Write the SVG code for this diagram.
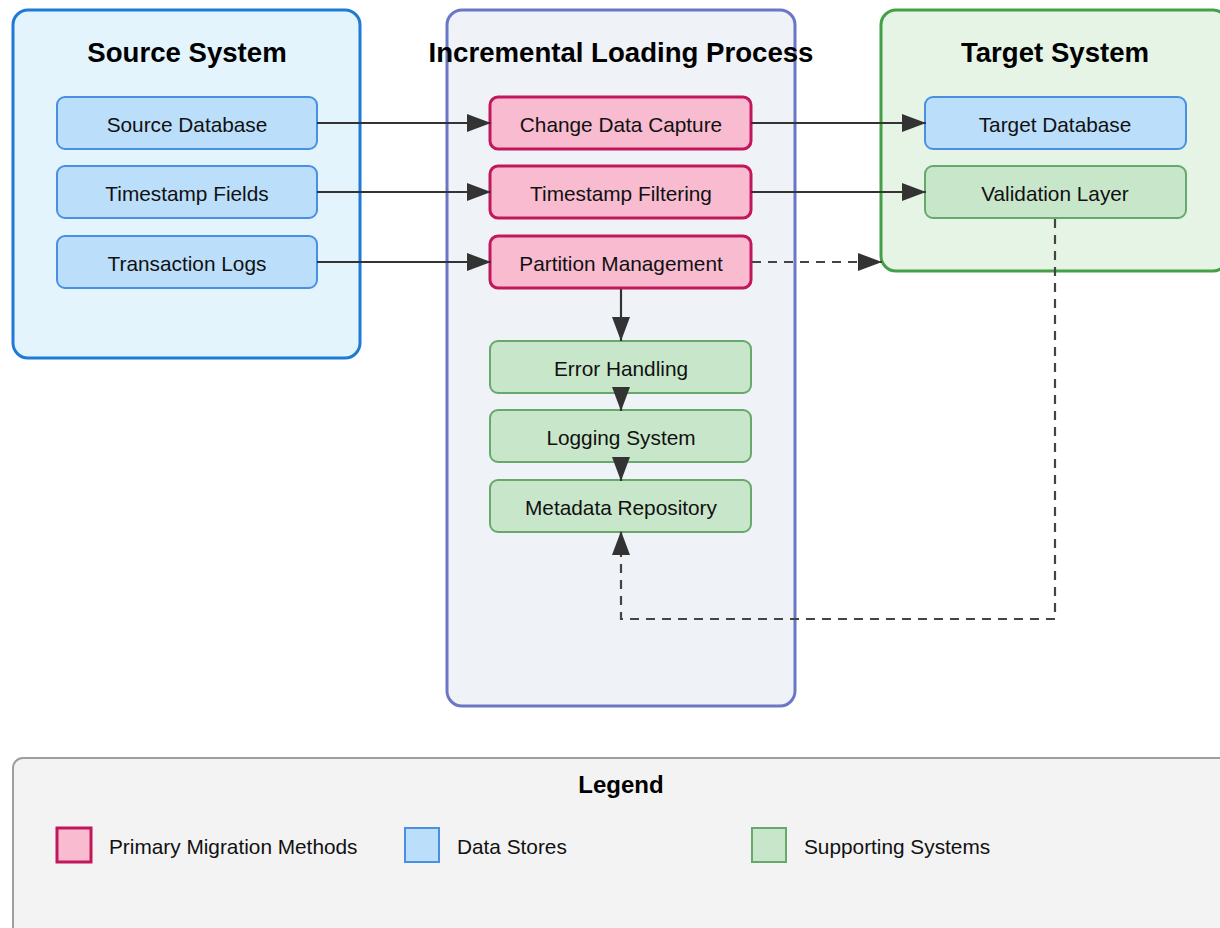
<svg xmlns="http://www.w3.org/2000/svg" width="1220" height="928" viewBox="0 0 1220 928">
<defs>
<style>
.ttl{font-family:"Liberation Sans",Arial,sans-serif;font-weight:bold;font-size:27.6px;fill:#000;text-anchor:middle}
.lbl{font-family:"Liberation Sans",Arial,sans-serif;font-size:20.8px;fill:#111;text-anchor:middle;dominant-baseline:central}
.leg{font-family:"Liberation Sans",Arial,sans-serif;font-size:20.8px;fill:#111;dominant-baseline:central}
.blue{fill:#bbdefb;stroke:#4a90e2;stroke-width:2}
.pink{fill:#f8bbd0;stroke:#c2185b;stroke-width:3}
.green{fill:#c8e6c9;stroke:#66a96a;stroke-width:2}
.edge{fill:none;stroke:#333;stroke-width:2.2}
.dash{stroke:#444;stroke-dasharray:9,7}
</style>
<marker id="ah" markerUnits="userSpaceOnUse" viewBox="0 0 24 18" refX="24" refY="9" markerWidth="24" markerHeight="18" orient="auto">
<path d="M0,0 L24,9 L0,18 z" fill="#333"/>
</marker>
</defs>
<rect width="1220" height="928" fill="#fff"/>

<g id="source-system">
<rect x="13" y="10" width="347" height="348" rx="15" fill="#e3f4fd" stroke="#1e7ad6" stroke-width="3"/>
<text class="ttl" x="187" y="62">Source System</text>
</g>
<g id="incremental-loading">
<rect x="447" y="10" width="348" height="696" rx="15" fill="#eff2f7" stroke="#6b76c6" stroke-width="3"/>
<text class="ttl" x="621" y="62">Incremental Loading Process</text>
</g>
<g id="target-system">
<rect x="881" y="10" width="347" height="261" rx="15" fill="#e6f4e6" stroke="#43a047" stroke-width="3"/>
<text class="ttl" x="1055" y="62">Target System</text>
</g>

<g id="source-database"><rect class="blue" x="57" y="97" width="260" height="52" rx="8"/><text class="lbl" x="187" y="124">Source Database</text></g>
<g id="timestamp-fields"><rect class="blue" x="57" y="166" width="260" height="52" rx="8"/><text class="lbl" x="187" y="193">Timestamp Fields</text></g>
<g id="transaction-logs"><rect class="blue" x="57" y="236" width="260" height="52" rx="8"/><text class="lbl" x="187" y="263">Transaction Logs</text></g>

<g id="change-data-capture"><rect class="pink" x="490" y="97" width="261" height="52" rx="8"/><text class="lbl" x="621" y="124">Change Data Capture</text></g>
<g id="timestamp-filtering"><rect class="pink" x="490" y="166" width="261" height="52" rx="8"/><text class="lbl" x="621" y="193">Timestamp Filtering</text></g>
<g id="partition-management"><rect class="pink" x="490" y="236" width="261" height="52" rx="8"/><text class="lbl" x="621" y="263">Partition Management</text></g>

<g id="error-handling"><rect class="green" x="490" y="341" width="261" height="52" rx="8"/><text class="lbl" x="621" y="368">Error Handling</text></g>
<g id="logging-system"><rect class="green" x="490" y="410" width="261" height="52" rx="8"/><text class="lbl" x="621" y="437">Logging System</text></g>
<g id="metadata-repository"><rect class="green" x="490" y="480" width="261" height="52" rx="8"/><text class="lbl" x="621" y="507">Metadata Repository</text></g>

<g id="target-database"><rect class="blue" x="925" y="97" width="261" height="52" rx="8"/><text class="lbl" x="1055" y="124">Target Database</text></g>
<g id="validation-layer"><rect class="green" x="925" y="166" width="261" height="52" rx="8"/><text class="lbl" x="1055" y="193">Validation Layer</text></g>

<g id="connectors">
<path class="edge" d="M317,123 H491" marker-end="url(#ah)"/>
<path class="edge" d="M317,192 H491" marker-end="url(#ah)"/>
<path class="edge" d="M317,262 H491" marker-end="url(#ah)"/>
<path class="edge" d="M751,123 H926" marker-end="url(#ah)"/>
<path class="edge" d="M751,192 H926" marker-end="url(#ah)"/>
<path class="edge dash" d="M752,262 H882" marker-end="url(#ah)"/>
<path class="edge" d="M621,289 V341" marker-end="url(#ah)"/>
<path class="edge" d="M621,394 V411" marker-end="url(#ah)"/>
<path class="edge" d="M621,463 V481" marker-end="url(#ah)"/>
<path class="edge dash" d="M1055,219 V619 H621 V531" marker-end="url(#ah)"/>
</g>

<g id="legend">
<rect x="13" y="758" width="1220" height="200" rx="10" fill="#f3f3f3" stroke="#9e9e9e" stroke-width="2"/>
<text x="621" y="793" font-family="Liberation Sans, Arial, sans-serif" font-weight="bold" font-size="24" text-anchor="middle" fill="#000">Legend</text>
<rect class="pink" x="57" y="828" width="34" height="34"/>
<text class="leg" x="109" y="846">Primary Migration Methods</text>
<rect class="blue" x="405" y="828" width="34" height="34"/>
<text class="leg" x="457" y="846">Data Stores</text>
<rect class="green" x="752" y="828" width="34" height="34"/>
<text class="leg" x="804" y="846">Supporting Systems</text>
</g>
</svg>
